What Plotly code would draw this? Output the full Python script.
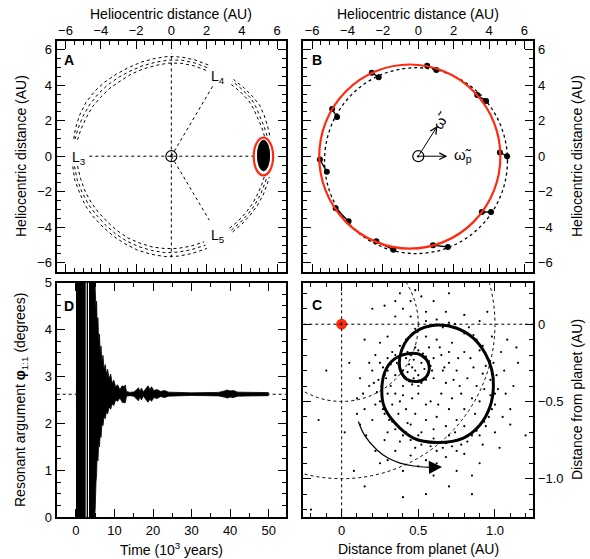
import plotly.graph_objects as go

RED = "#ff2a10"
FONT = "Liberation Sans, Arial, sans-serif"
W, H = 590, 559

# ---------------- Panel A : heliocentric frame ----------------
a_ring_theta = [68, 76, 84, 92, 100, 108, 116, 124, 132, 140, 148, 156, 164, 170, None,
                186, 194, 202, 210, 218, 226, 234, 242, 250, 258, 266, 274, 282, 291, None,
                309, 316, 323, 330, 337, 344, 348, None,
                12, 18, 24, 30, 36, 43, 51]
a_ring_r_inner = [5.25, 5.28, 5.30, 5.28, 5.22, 5.20, 5.18, 5.15, 5.20, 5.22, 5.28, 5.30, 5.35, 5.40, None,
                  5.35, 5.30, 5.28, 5.25, 5.22, 5.20, 5.22, 5.25, 5.24, 5.26, 5.25, 5.24, 5.22, 5.20, None,
                  5.25, 5.28, 5.30, 5.33, 5.35, 5.38, 5.40, None,
                  5.40, 5.38, 5.35, 5.38, 5.40, 5.35, 5.30]
a_ring_r_mid = [5.42, 5.45, 5.48, 5.45, 5.40, 5.38, 5.36, 5.38, 5.42, 5.45, 5.48, 5.50, 5.52, 5.55, None,
                5.52, 5.50, 5.46, 5.44, 5.40, 5.40, 5.42, 5.44, 5.45, 5.46, 5.48, 5.45, 5.42, 5.40, None,
                5.40, 5.42, 5.45, 5.48, 5.50, 5.52, 5.55, None,
                5.55, 5.52, 5.50, 5.55, 5.58, 5.52, 5.48]
a_ring_r_outer = [5.58, 5.62, 5.65, 5.66, 5.62, 5.60, 5.58, 5.60, 5.65, 5.70, 5.72, 5.70, 5.66, 5.62, None,
                  5.62, 5.64, 5.60, 5.62, 5.60, 5.58, 5.60, 5.62, 5.66, 5.68, 5.70, 5.68, 5.64, 5.60, None,
                  5.52, 5.55, 5.58, 5.62, 5.65, 5.66, 5.68, None,
                  5.70, 5.72, 5.75, 5.78, 5.72, 5.66, 5.60]
a_guide_x0 = [-4.65, 0, 0, 0]
a_guide_y0 = [0, -5.7, 0, 0]
a_guide_x1 = [4.7, 0, 2.35, 2.15]
a_guide_y1 = [0, 5.8, 3.95, -3.6]
a_L_text = ["L<sub>3</sub>", "L<sub>4</sub>", "L<sub>5</sub>"]
a_L_x = [-5.25, 2.65, 2.65]
a_L_y = [-0.1, 4.45, -4.5]
a_tadpole_ellipse = [4.67, 5.77, -1.08, 1.04]   # x0, x1, y0, y1
a_tadpole_blob = [4.88, 5.57, -0.82, 0.90]

# ---------------- Panel B : orbits ----------------
b_red_orbit = [-5.6, 4.64, -5.2, 5.16]
b_planet_orbit = [-5.3, 5.04, -5.48, 4.98]
b_red_x = [0.50, -2.63, 3.33, -4.87, -5.56, 4.61, -4.67, 3.59, -2.37, 0.83]
b_red_y = [5.09, 4.69, 3.44, 2.65, -0.19, 0.21, -2.93, -3.14, -4.79, -5.01]
b_dot_x = [1.02, -2.24, 3.83, -4.59, -5.17, 5.02, -3.94, 4.11, -1.41, 1.67]
b_dot_y = [4.85, 4.45, 3.10, 2.20, -0.88, 0.00, -3.66, -3.14, -5.26, -5.11]
b_vec_x = [1.08, 1.64]
b_vec_y = [1.70, 0.0]

# ---------------- Panel D : resonant argument (envelope of the oscillation) ----------------
d_t = [0, 4.85, 4.85, 5.0, 5.2, 5.35, 5.5, 5.7, 5.9, 6.1, 6.3, 6.5, 6.75, 7.0, 7.3, 7.6, 7.9,
       8.2, 8.6, 9.0, 9.4, 9.8, 10.3, 10.8, 11.4, 12.0, 12.5, 12.8, 13.1, 14.0, 15.0, 15.8,
       16.2, 16.6, 17.0, 17.5, 18.2, 18.7, 19.2, 19.6, 20.2, 21.0, 22.0, 23.0, 24.0, 26.0,
       30.0, 34.0, 37.0, 38.5, 39.3, 40.0, 40.8, 42.0, 46.0, 50.0]
d_upper = [6, 6, 5.2, 4.8, 4.4, 4.6, 4.1, 4.25, 3.7, 3.9, 3.45, 3.65, 3.3, 3.45, 3.15, 3.25,
           3.05, 3.15, 2.95, 3.05, 2.85, 2.92, 2.78, 2.82, 2.72, 2.8, 2.78, 2.82, 2.68, 2.66,
           2.67, 2.72, 2.76, 2.68, 2.75, 2.67, 2.74, 2.8, 2.72, 2.78, 2.7, 2.72, 2.68, 2.7,
           2.665, 2.655, 2.65, 2.655, 2.66, 2.69, 2.71, 2.69, 2.7, 2.665, 2.655, 2.655]
d_lower = [-1, -1, 0.0, 0.2, 0.75, 0.9, 1.35, 1.2, 1.6, 1.5, 1.8, 1.7, 2.0, 1.95, 2.15, 2.1,
           2.25, 2.2, 2.35, 2.3, 2.42, 2.38, 2.5, 2.47, 2.54, 2.45, 2.44, 2.44, 2.58, 2.59,
           2.58, 2.52, 2.48, 2.56, 2.5, 2.58, 2.5, 2.45, 2.52, 2.47, 2.55, 2.53, 2.57, 2.55,
           2.58, 2.59, 2.595, 2.59, 2.585, 2.56, 2.54, 2.56, 2.55, 2.58, 2.59, 2.59]
d_gaps_t = [2.65, 3.25]
d_libration_centre = 2.62

# ---------------- Panel C : planet frame ----------------
c_path_x = [0.631, 0.751, 0.859, 0.935, 0.979, 0.990, 0.968, 0.903, 0.794, 0.620, 0.468, 0.348,
            0.277, 0.262, 0.283, 0.337, 0.425, 0.500, 0.555, 0.572, 0.544, 0.490, 0.425, 0.386,
            0.376, 0.392, 0.435, 0.511, 0.631]
c_path_y = [-0.005, -0.026, -0.090, -0.187, -0.295, -0.403, -0.533, -0.651, -0.737, -0.765,
            -0.737, -0.640, -0.533, -0.425, -0.306, -0.231, -0.192, -0.192, -0.231, -0.285,
            -0.349, -0.371, -0.356, -0.306, -0.252, -0.166, -0.090, -0.032, -0.005]
c_dot_x = [
    0.62, 0.70, 0.55, 0.48, 0.78, 0.83, 0.88, 0.92, 0.95, 0.99,
    1.01, 1.02, 0.97, 1.00, 0.96, 0.93, 0.88, 0.85, 0.78, 0.72,
    0.66, 0.58, 0.52, 0.45, 0.40, 0.35, 0.31, 0.28, 0.25, 0.23,
    0.24, 0.27, 0.30, 0.33, 0.38, 0.42, 0.36, 0.40, 0.42, 0.45,
    0.50, 0.55, 0.58, 0.56, 0.52, 0.46, 0.41, 0.38, 0.44, 0.48,
    0.52, 0.47, 0.40, 0.35, 0.30, 0.32, 0.29, 0.50, 0.58, 0.65,
    0.70, 0.62, 0.55, 0.48, 0.42, 0.38, 0.45, 0.52, 0.60, 0.68,
    0.75, 0.80, 0.85, 0.88, 0.82, 0.75, 0.70, 0.65, 0.72, 0.80,
    0.86, 0.90, 0.78, 0.68, 0.60, 0.62, 0.55, 0.66, 0.74, 0.20,
    0.18, 0.15, 0.20, 0.28, 0.35, 0.45, 0.55, 0.68, 0.80, 0.92,
    1.00, 1.05, 1.07, 1.06, 1.04, 0.98, 0.90, 0.80, 0.68, 0.55,
    0.45, 0.40, 0.52, 0.45, 0.35, 0.30, 0.25, 0.22, 0.12, 0.10,
    0.12, 0.25, 0.40, 0.60, 0.75, 0.90, 1.10, 1.12, 1.08, 0.60,
    0.48, 0.38, 0.70, 0.05, -0.10, 0.02, -0.15, 0.15, 0.40, 0.55,
    0.70, 0.85, 1.15, 1.20, -0.20, 0.08, 0.20, 0.28, 0.15,
    0.60, 0.66, 0.74, 0.80, 0.86, 0.90, 0.94, 0.97, 1.00, 0.98,
    0.94, 0.90, 0.82, 0.75, 0.68, 0.62, 0.55, 0.48, 0.42, 0.38,
    0.33, 0.30, 0.27, 0.22, 0.26, 0.21, 0.28, 0.25, 0.32, 0.35,
    0.43, 0.48, 0.53, 0.57, 0.59, 0.55, 0.50, 0.44, 0.39, 0.37,
    0.46, 0.50, 0.43, 0.47, 0.54,
    0.35, 0.40, 0.46, 0.55, 0.63, 0.72, 0.77, 0.73, 0.67, 0.60,
    0.57, 0.64, 0.70, 0.76, 0.84, 0.92, 0.93, 0.87, 0.80, 0.70,
    0.60, 0.50, 0.43, 0.37, 0.33, 0.30, 0.18, 0.14, 0.10, 0.16,
    0.22, 0.30, 0.50, 0.62, 0.85, 1.03, 1.10, 1.14, 0.95, 0.35]
c_dot_y = [
    0.03, 0.01, 0.02, -0.03, -0.04, -0.02, -0.10, -0.14, -0.22, -0.25,
    -0.33, -0.42, -0.46, -0.52, -0.60, -0.63, -0.69, -0.72, -0.78, -0.79,
    -0.80, -0.79, -0.78, -0.75, -0.72, -0.68, -0.62, -0.58, -0.50, -0.44,
    -0.36, -0.28, -0.22, -0.18, -0.14, -0.10, -0.25, -0.30, -0.22, -0.20,
    -0.17, -0.21, -0.27, -0.33, -0.38, -0.39, -0.35, -0.29, -0.26, -0.30,
    -0.25, -0.23, -0.40, -0.33, -0.30, -0.40, -0.35, -0.45, -0.50, -0.45,
    -0.55, -0.60, -0.62, -0.58, -0.55, -0.50, -0.65, -0.70, -0.68, -0.66,
    -0.62, -0.55, -0.48, -0.40, -0.35, -0.30, -0.25, -0.20, -0.12, -0.18,
    -0.28, -0.50, -0.45, -0.38, -0.35, -0.10, -0.08, -0.30, -0.70, -0.30,
    -0.40, -0.55, -0.62, -0.75, -0.82, -0.85, -0.88, -0.86, -0.84, -0.78,
    -0.70, -0.60, -0.45, -0.30, -0.18, -0.08, 0.02, 0.06, 0.08, 0.08,
    0.05, 0.10, 0.18, 0.15, 0.05, -0.08, -0.12, -0.20, -0.35, -0.48,
    -0.65, -0.90, -0.95, -0.98, -0.95, -0.90, -0.55, -0.40, -0.10, 0.15,
    0.22, 0.20, 0.20, -0.25, -0.30, -0.70, -0.62, -1.05, -1.12, -1.10,
    -1.05, -1.10, -0.25, -0.72, -1.20, -0.95, 0.10, 0.12, -0.10,
    -0.01, -0.02, 0.00, -0.06, -0.07, -0.17, -0.27, -0.36, -0.45, -0.55,
    -0.66, -0.72, -0.76, -0.82, -0.77, -0.82, -0.76, -0.80, -0.70, -0.76,
    -0.63, -0.70, -0.55, -0.52, -0.40, -0.38, -0.33, -0.25, -0.26, -0.20,
    -0.18, -0.15, -0.19, -0.24, -0.30, -0.36, -0.40, -0.37, -0.32, -0.26,
    -0.28, -0.33, -0.31, -0.35, -0.29,
    -0.45, -0.46, -0.48, -0.52, -0.52, -0.48, -0.40, -0.36, -0.28, -0.22,
    -0.15, -0.15, -0.18, -0.22, -0.22, -0.32, -0.42, -0.58, -0.66, -0.72,
    -0.74, -0.72, -0.64, -0.58, -0.52, -0.45, -0.25, -0.45, -0.58, -0.72,
    -0.82, -0.88, -0.92, -0.90, -0.98, -0.80, -0.65, -0.15, 0.08, 0.15]
c_arrow_x = [0.109, 0.15, 0.229, 0.30, 0.381, 0.47, 0.57]
c_arrow_y = [-0.63, -0.72, -0.813, -0.865, -0.899, -0.918, -0.927]
c_arrow_tip = [0.655, -0.925]
c_circle_radii = [0.5, 1.0]

# ---------------- layout geometry (pixels) ----------------
def px_x(a, b):
    return [a / W, b / W]

def px_y(top, bottom):
    return [1 - bottom / H, 1 - top / H]

DOM_L = px_x(56.7, 286)
DOM_R = px_x(303.3, 533.3)
DOM_T = px_y(40.7, 271.7)
DOM_B = px_y(282.5, 517.3)
TOP_LABEL_POS = 1 - 37.5 / H

fig = go.Figure()

dotted = dict(color="black", width=1, dash="dot")

# Panel A traces
for rr in (a_ring_r_inner, a_ring_r_mid, a_ring_r_outer):
    fig.add_trace(go.Scatterpolar(r=rr, theta=a_ring_theta, mode="lines", subplot="polar",
                                  connectgaps=False, line=dotted, showlegend=False,
                                  hoverinfo="skip"))
for x0, y0, x1, y1 in zip(a_guide_x0, a_guide_y0, a_guide_x1, a_guide_y1):
    fig.add_shape(type="line", xref="x", yref="y", x0=x0, y0=y0, x1=x1, y1=y1, line=dotted)
fig.add_shape(type="circle", xref="x", yref="y", x0=a_tadpole_blob[0], x1=a_tadpole_blob[1],
              y0=a_tadpole_blob[2], y1=a_tadpole_blob[3], fillcolor="black",
              line=dict(color="black", width=1))
fig.add_shape(type="circle", xref="x", yref="y", x0=a_tadpole_ellipse[0], x1=a_tadpole_ellipse[1],
              y0=a_tadpole_ellipse[2], y1=a_tadpole_ellipse[3], line=dict(color=RED, width=2.2))
for xa, ya in (("x", "y"), ("x2", "y2")):
    fig.add_trace(go.Scatter(x=[0], y=[0], xaxis=xa, yaxis=ya, mode="markers",
                             marker=dict(symbol="circle", size=11, color="white",
                                         line=dict(color="black", width=1.2)),
                             showlegend=False, hoverinfo="skip"))
    fig.add_trace(go.Scatter(x=[0], y=[0], xaxis=xa, yaxis=ya, mode="markers",
                             marker=dict(symbol="circle", size=2.5, color="black"),
                             showlegend=False, hoverinfo="skip"))

# invisible traces so that the top tick-label axes get drawn
for xa in ("x5", "x6"):
    fig.add_trace(go.Scatter(x=[0], y=[0], xaxis=xa, yaxis="y" if xa == "x5" else "y2",
                             mode="markers", marker=dict(opacity=0), showlegend=False,
                             hoverinfo="skip"))

# Panel B
fig.add_shape(type="circle", xref="x2", yref="y2", x0=b_planet_orbit[0], x1=b_planet_orbit[1],
              y0=b_planet_orbit[2], y1=b_planet_orbit[3], line=dict(color="black", width=1.3, dash="dot"))
fig.add_shape(type="circle", xref="x2", yref="y2", x0=b_red_orbit[0], x1=b_red_orbit[1],
              y0=b_red_orbit[2], y1=b_red_orbit[3], line=dict(color=RED, width=2.2))
seg_x, seg_y = [], []
for xr, yr, xd, yd in zip(b_red_x, b_red_y, b_dot_x, b_dot_y):
    seg_x += [xr, xd, None]
    seg_y += [yr, yd, None]
fig.add_trace(go.Scatter(x=seg_x, y=seg_y, xaxis="x2", yaxis="y2", mode="lines+markers",
                         line=dict(color="black", width=1.3),
                         marker=dict(size=6, color="black"), showlegend=False, hoverinfo="skip"))

# Panel D
fig.add_shape(type="line", xref="x3", yref="y3", x0=-5, x1=54.5, y0=d_libration_centre,
              y1=d_libration_centre, line=dotted, layer="below")
fig.add_trace(go.Scatter(x=d_t, y=d_lower, xaxis="x3", yaxis="y3", mode="lines",
                         line=dict(color="black", width=0.8), showlegend=False, hoverinfo="skip"))
fig.add_trace(go.Scatter(x=d_t, y=d_upper, xaxis="x3", yaxis="y3", mode="lines", fill="tonexty",
                         fillcolor="black", line=dict(color="black", width=0.8),
                         showlegend=False, hoverinfo="skip"))
for tg in d_gaps_t:
    fig.add_shape(type="line", xref="x3", yref="y3", x0=tg, x1=tg, y0=0, y1=5,
                  line=dict(color="white", width=1))

# Panel C
fig.add_shape(type="line", xref="x4", yref="y4", x0=0, x1=0, y0=-1.25, y1=0.27, line=dotted)
fig.add_shape(type="line", xref="x4", yref="y4", x0=-0.25, x1=1.25, y0=0, y1=0, line=dotted)
for rad in c_circle_radii:
    fig.add_shape(type="circle", xref="x4", yref="y4", x0=-rad, x1=rad, y0=-rad, y1=rad, line=dotted)
fig.add_trace(go.Scatter(x=c_dot_x, y=c_dot_y, xaxis="x4", yaxis="y4", mode="markers",
                         marker=dict(size=2.2, color="black"), showlegend=False, hoverinfo="skip"))
fig.add_trace(go.Scatter(x=c_path_x, y=c_path_y, xaxis="x4", yaxis="y4", mode="lines",
                         line=dict(color="black", width=3, shape="spline"),
                         showlegend=False, hoverinfo="skip"))
fig.add_trace(go.Scatter(x=c_arrow_x, y=c_arrow_y, xaxis="x4", yaxis="y4", mode="lines",
                         line=dict(color="black", width=1.2, shape="spline"),
                         showlegend=False, hoverinfo="skip"))
fig.add_trace(go.Scatter(x=[0], y=[0], xaxis="x4", yaxis="y4", mode="markers",
                         marker=dict(size=11, color=RED), showlegend=False, hoverinfo="skip"))

# ---------------- axes ----------------
tickfont = dict(family=FONT, size=13, color="black")

def ax(domain, anchor, side, rng, dtick, minor_dtick, **kw):
    d = dict(domain=domain, anchor=anchor, side=side, range=rng, tickmode="linear", tick0=0,
             dtick=dtick, ticks="inside", ticklen=8, tickwidth=1.3, tickcolor="black",
             showline=True, linewidth=2, linecolor="black", mirror="ticks",
             showgrid=False, zeroline=False, tickfont=tickfont, automargin=False,
             minor=dict(ticks="inside", ticklen=4, tickwidth=1.2, tickcolor="black",
                        dtick=minor_dtick, tick0=0, showgrid=False))
    d.update(kw)
    return d

def label_only_axis(domain, overlay, rng, dtick):
    return dict(domain=domain, overlaying=overlay, anchor="free", position=TOP_LABEL_POS,
                side="top", range=rng, tickmode="linear", tick0=0, dtick=dtick, ticks="",
                showline=False, showgrid=False, zeroline=False, tickfont=tickfont,
                automargin=False)

fig.update_layout(
    width=W, height=H, autosize=False, margin=dict(l=0, r=0, t=0, b=0, pad=0),
    paper_bgcolor="white", plot_bgcolor="white", showlegend=False,
    font=dict(family=FONT, color="black"),
    xaxis=ax(DOM_L, "y", "top", [-6.5, 6.5], 2, 0.5, showticklabels=False),
    yaxis=ax(DOM_T, "x", "left", [-6.5, 6.5], 2, 0.5),
    xaxis2=ax(DOM_R, "y2", "top", [-6.5, 6.5], 2, 0.5, showticklabels=False),
    yaxis2=ax(DOM_T, "x2", "right", [-6.5, 6.5], 2, 0.5),
    xaxis3=ax(DOM_L, "y3", "bottom", [-5, 54.5], 10, 5),
    yaxis3=ax(DOM_B, "x3", "left", [0, 5], 1, 0.25),
    xaxis4=ax(DOM_R, "y4", "bottom", [-0.25, 1.25], 0.5, 0.1, tickmode="array",
              tickvals=[0, 0.5, 1.0], ticktext=["0", "0.5", "1.0"]),
    yaxis4=ax(DOM_B, "x4", "right", [-1.25, 0.27], 0.5, 0.1, tickmode="array",
              tickvals=[0, -0.5, -1.0], ticktext=["0", "\u22120.5", "\u22121.0"]),
    xaxis5=label_only_axis(DOM_L, "x", [-6.5, 6.5], 2),
    xaxis6=label_only_axis(DOM_R, "x2", [-6.5, 6.5], 2),
    polar=dict(domain=dict(x=DOM_L, y=DOM_T), bgcolor="rgba(0,0,0,0)",
               radialaxis=dict(visible=False, range=[0, 6.5]),
               angularaxis=dict(visible=False, rotation=0, direction="counterclockwise")),
)

# ---------------- annotations ----------------
ann = []
title_font = dict(family=FONT, size=14, color="black")

def pann(text, x, y, angle=0, font=title_font, xanchor="center"):
    ann.append(dict(text=text, x=x / W, y=1 - y / H, xref="paper", yref="paper",
                    showarrow=False, textangle=angle, font=font, xanchor=xanchor, yanchor="middle"))

pann("Heliocentric distance (AU)", 171, 14)
pann("Heliocentric distance (AU)", 418, 14)
pann("Heliocentric distance (AU)", 21, 156, -90)
pann("Heliocentric distance (AU)", 577, 156, -90)
pann("Resonant argument <b>\u03c6</b><sub>1:1</sub> (degrees)", 21, 400, -90)
pann("Time (10<sup>3</sup> years)", 171, 549)
pann("Distance from planet (AU)", 418, 549)
pann("Distance from planet (AU)", 577, 400, -90)
letter_font = dict(family=FONT, size=14, color="black")
pann("<b>A</b>", 62, 60, font=letter_font, xanchor="left")
pann("<b>B</b>", 310, 60, font=letter_font, xanchor="left")
pann("<b>D</b>", 62, 306, font=letter_font, xanchor="left")
pann("<b>C</b>", 310, 305, font=letter_font, xanchor="left")

for t, x, y in zip(a_L_text, a_L_x, a_L_y):
    ann.append(dict(text=t, x=x, y=y, xref="x", yref="y", showarrow=False,
                    font=dict(family=FONT, size=14, color="black")))

# panel B vectors
for vx, vy in zip(b_vec_x, b_vec_y):
    ann.append(dict(x=vx, y=vy, ax=0, ay=0, xref="x2", yref="y2", axref="x2", ayref="y2",
                    showarrow=True, arrowhead=5, arrowsize=1.3, arrowwidth=1, arrowcolor="black",
                    text=""))
ann.append(dict(text="\u03c9\u0303", x=1.3, y=2.05, xref="x2", yref="y2", showarrow=False,
                textangle=-60, font=dict(family=FONT, size=15, color="black")))
ann.append(dict(text="\u03c9\u0303<sub>p</sub>", x=2.55, y=0.05, xref="x2", yref="y2",
                showarrow=False, font=dict(family=FONT, size=15, color="black")))

# panel C arrow head
ann.append(dict(x=c_arrow_tip[0], y=c_arrow_tip[1], ax=c_arrow_x[-1], ay=c_arrow_y[-1],
                xref="x4", yref="y4", axref="x4", ayref="y4", showarrow=True, arrowhead=2,
                arrowsize=2.2, arrowwidth=1.2, arrowcolor="black", text=""))

fig.update_layout(annotations=ann)
fig.write_html("out.html", config={"displayModeBar": False},
               post_script="document.body.style.margin='0px';document.body.style.overflow='hidden';")
